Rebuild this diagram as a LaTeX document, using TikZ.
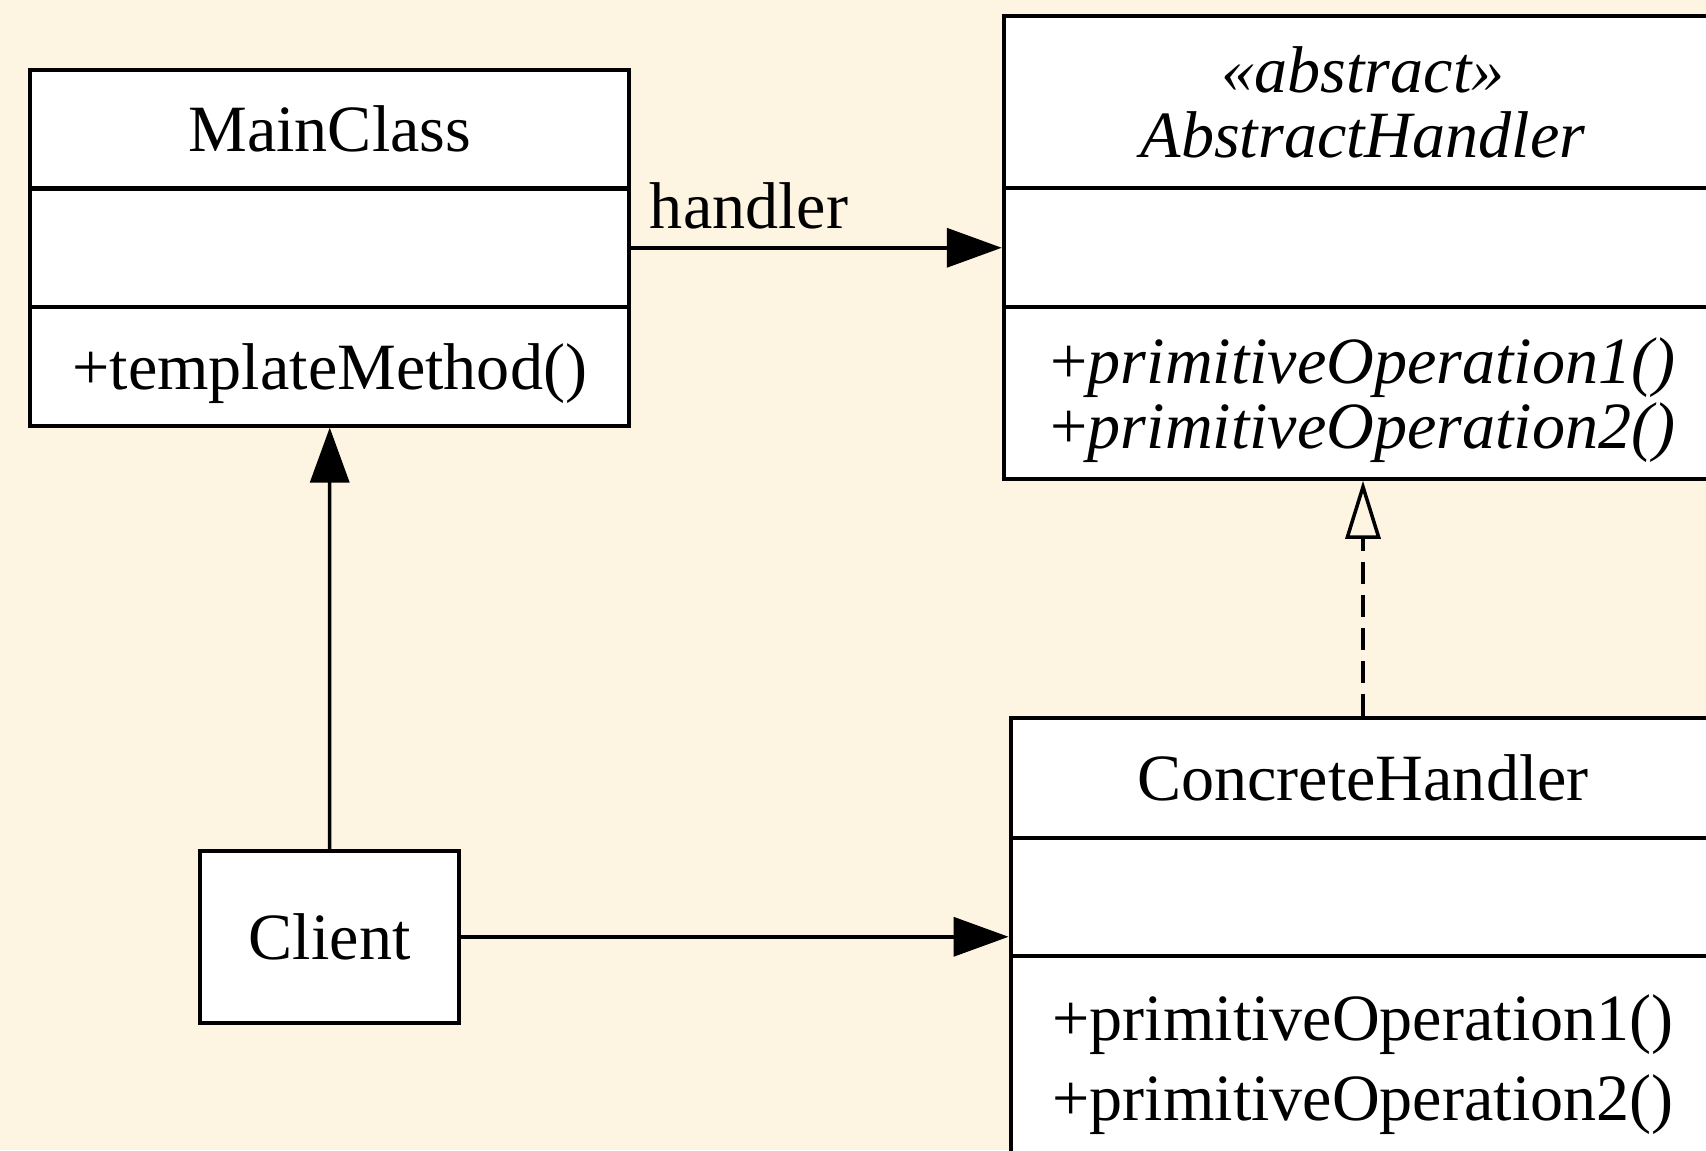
\documentclass[tikz,border=0pt]{standalone}
\usepackage{fontspec}
\setmainfont{Liberation Serif}
\usetikzlibrary{arrows.meta}
\definecolor{paper}{HTML}{FDF5E2}
\newcommand{\classfont}{\fontsize{18.8pt}{18.4pt}\selectfont}
\tikzset{
  part/.style={rectangle,draw,fill=white,line width=1.15pt,inner sep=0pt,align=center,font=\classfont},
  opspart/.style={part,text depth=0pt},
  assoc/.style={line width=1pt,-{Triangle[length=0.55cm,width=0.39cm]}},
  realize/.style={line width=1pt,dash pattern=on 0.22cm off 0.11cm,-{Triangle[open,length=0.58cm,width=0.35cm]}}
}
\begin{document}
\begin{tikzpicture}[x=0.01cm,y=-0.01cm]
  \useasboundingbox (0,0) rectangle (1706,1150);
  \clip (0,0) rectangle (1706,1150);
  \fill[paper] (0,0) rectangle (1706,1150);
  \node[part,minimum width=5.985cm,minimum height=1.185cm] (mainName) at (329.75,129.25) {MainClass};
  \node[part,minimum width=5.985cm,minimum height=1.185cm] (mainAttr) at (329.75,247.75) {};
  \node[opspart,minimum width=5.985cm,minimum height=1.185cm] (mainOps) at (329.75,366.25) {+templateMethod()};
  \node[part,minimum width=7.18cm,minimum height=1.719cm,font=\classfont\itshape] (absName) at (1363,102.25) {«abstract»\\AbstractHandler};
  \node[part,minimum width=7.18cm,minimum height=1.186cm] (absAttr) at (1363,247.5) {};
  \node[opspart,minimum width=7.18cm,minimum height=1.719cm] (absOps) at (1363,392.75) {+\textit{primitiveOperation1()}\\+\textit{primitiveOperation2()}};
  \node[part,minimum width=7.044cm,minimum height=1.198cm] (concName) at (1363,777.9) {ConcreteHandler};
  \node[part,minimum width=7.044cm,minimum height=1.186cm] (concAttr) at (1363,897.1) {};
  \node[opspart,minimum width=7.044cm,minimum height=2.016cm,font=\fontsize{18.8pt}{22.7pt}\selectfont] (concOps) at (1363,1057.2) {+primitiveOperation1()\\+primitiveOperation2()};
  \node[part,minimum width=2.589cm,minimum height=1.719cm] (client) at (329.65,936.75) {Client};
  \draw[assoc] (mainAttr.east) -- node[pos=0,above right,inner sep=0.17cm,font=\classfont] (handlerLbl) {handler} (mainAttr.east -| absAttr.west);
  \draw[assoc] (client) -- (mainOps);
  \draw[assoc] (client.east) -- (client.east -| concAttr.west);
  \draw[realize] (concName) -- (absOps);
\end{tikzpicture}
\end{document}
